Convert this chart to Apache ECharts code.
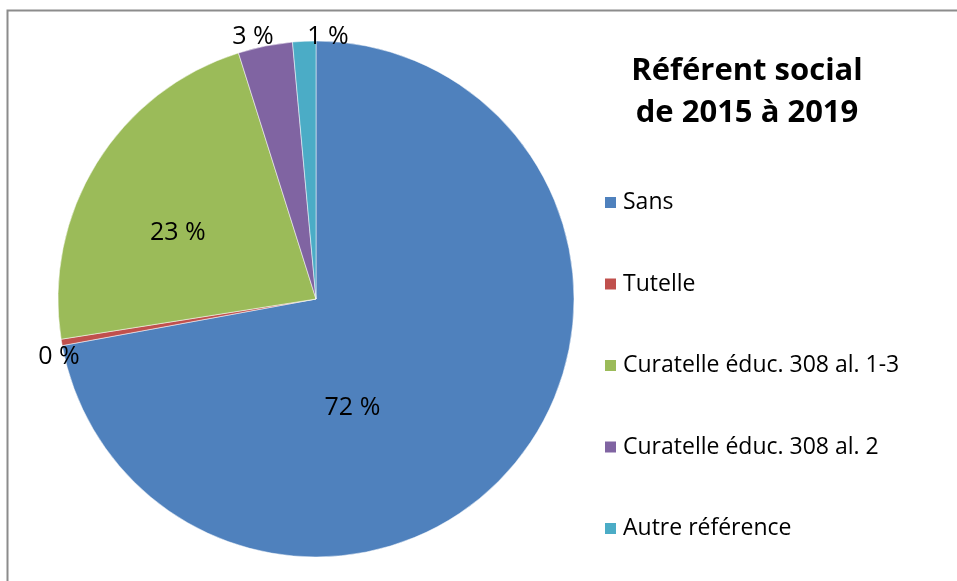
<!DOCTYPE html>
<html>
<head>
<meta charset="utf-8">
<script src="https://cdn.jsdelivr.net/npm/echarts@6/dist/echarts.min.js"></script>
<style>
  html, body { margin: 0; padding: 0; background: #fff; }
  #chart { width: 957px; height: 581px; }
</style>
</head>
<body>
<div id="chart"></div>
<script>
var categories = ['Sans', 'Tutelle', 'Curatelle éduc. 308 al. 1-3', 'Curatelle éduc. 308 al. 2', 'Autre référence'];
var values = [72, 0.4, 22.6, 3.4, 1.45];
var colors = ['#4F81BD', '#C0504D', '#9BBB59', '#8064A2', '#4BACC6'];
// label nudges to mimic Excel's "best fit" placement
var labelOffsets = [[-65, 24], [-127, 36], [-26, 3], [-37, -133], [18, -130]];

var dom = document.getElementById('chart');
var myChart = echarts.init(dom);

var option = {
    animation: false,
    textStyle: { fontFamily: 'Open Sans' },
    title: {
        text: 'Référent social\nde 2015 à 2019',
        left: 742,
        top: 45,
        textAlign: 'center',
        textStyle: {
            fontFamily: 'Open Sans',
            fontWeight: 'bold',
            fontSize: 31,
            lineHeight: 42,
            color: '#000'
        }
    },
    legend: {
        orient: 'vertical',
        left: 598,
        top: 186,
        itemWidth: 13,
        itemHeight: 13,
        itemGap: 58.5,
        icon: 'rect',
        textStyle: { fontFamily: 'Open Sans', fontSize: 23, color: '#000', padding: [0, 0, 0, 1] },
        data: categories
    },
    graphic: [{
        type: 'rect',
        shape: { x: 7.5, y: 10.5, width: 1000, height: 1000 },
        style: { fill: 'none', stroke: '#8c8c8c', lineWidth: 2 },
        silent: true
    }],
    series: [{
        type: 'pie',
        center: [316, 299],
        radius: 258,
        startAngle: 90,
        clockwise: true,
        avoidLabelOverlap: false,
        itemStyle: { borderColor: '#fff', borderWidth: 0.5 },
        label: {
            position: 'inside',
            fontFamily: 'Open Sans',
            fontSize: 25,
            color: '#000',
            formatter: function (p) { return Math.round(p.percent) + ' %'; }
        },
        labelLine: { show: false },
        emphasis: { disabled: true },
        data: categories.map(function (name, i) {
            return {
                name: name,
                value: values[i],
                itemStyle: { color: colors[i] },
                label: { offset: labelOffsets[i] }
            };
        })
    }]
};

myChart.setOption(option);
</script>
</body>
</html>
